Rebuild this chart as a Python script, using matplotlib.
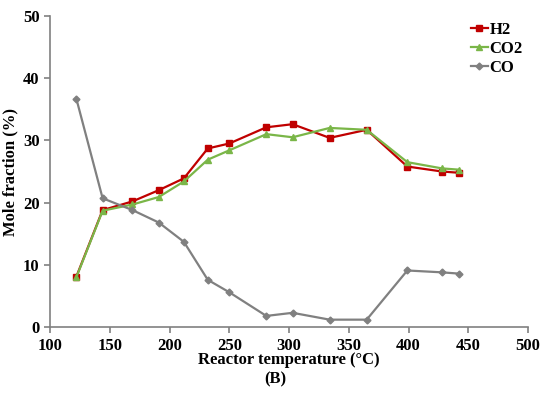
import matplotlib.pyplot as plt

plt.rcParams['font.family'] = ['Liberation Serif', 'DejaVu Serif']
plt.rcParams['font.weight'] = 'bold'

# reactor temperature (C)
temp = [122, 144, 169, 191, 212, 232, 250, 281, 303, 334, 365, 399, 428, 442]
h2 = [8.1, 18.8, 20.2, 22.0, 23.9, 28.7, 29.5, 32.1, 32.6, 30.4, 31.7, 25.8, 25.0, 24.8]
co2 = [8.0, 18.7, 19.7, 20.9, 23.4, 26.9, 28.4, 31.0, 30.5, 32.0, 31.7, 26.5, 25.5, 25.3]
co = [36.7, 20.7, 18.8, 16.8, 13.7, 7.6, 5.6, 1.8, 2.3, 1.2, 1.2, 9.1, 8.8, 8.6]

fig = plt.figure(figsize=(5.5, 3.97), dpi=100)
ax = fig.add_axes([0.091, 0.176, 0.869, 0.784])

ax.plot(temp, h2, color='#C00000', marker='s', ms=5, lw=1.6, label='H2')
ax.plot(temp, co2, color='#7AB648', marker='^', ms=5, lw=1.6, label='CO2')
ax.plot(temp, co, color='#808080', marker='D', ms=3.5, lw=1.6, label='CO')

ax.set_xlim(100, 500)
ax.set_ylim(0, 50)
ax.set_xticks(range(100, 501, 50))
ax.set_yticks(range(0, 51, 10))
for s in ['top', 'right']:
    ax.spines[s].set_visible(False)
for s in ['left', 'bottom']:
    ax.spines[s].set_color('#808080')
    ax.spines[s].set_linewidth(1.2)
ax.tick_params(direction='out', length=4, color='#808080', labelsize=12, width=1.2)

ax.set_xlabel('Reactor temperature (°C)', fontsize=12, fontweight='bold', labelpad=-1)
ax.set_ylabel('Mole fraction (%)', fontsize=12, fontweight='bold', labelpad=3)

ax.legend(loc='upper right', bbox_to_anchor=(1.02, 1.03), frameon=False,
          fontsize=12, handlelength=1.0, handletextpad=0.1, labelspacing=0.2)

fig.text(0.5, 0.035, '(B)', ha='center', fontsize=12, fontweight='bold')

fig.savefig('out.png', dpi=100)
